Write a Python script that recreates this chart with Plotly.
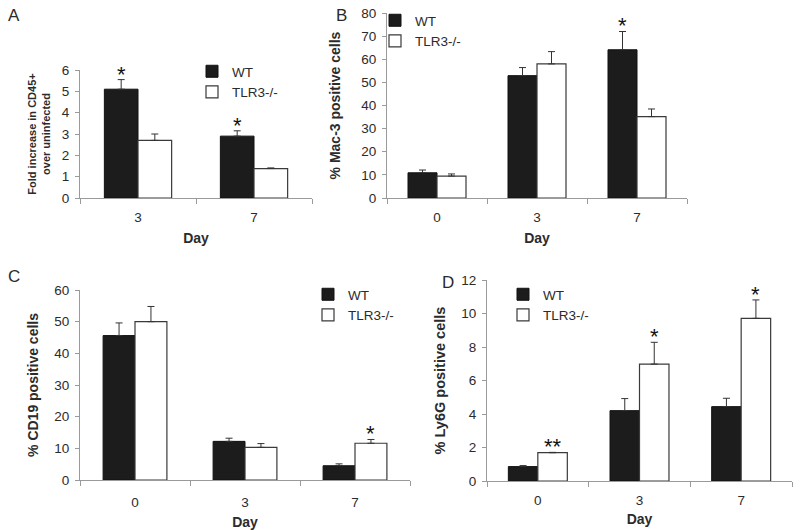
import plotly.graph_objects as go

# ---------------- data ----------------
series_names = ["WT", "TLR3-/-"]

a_days = ["3", "7"]
a_wt = [5.1, 2.9]
a_wt_err = [0.45, 0.25]
a_ko = [2.7, 1.38]
a_ko_err = [0.3, 0.03]

b_days = ["0", "3", "7"]
b_wt = [10.9, 52.9, 64.1]
b_wt_err = [1.2, 3.5, 7.9]
b_ko = [9.5, 58.0, 35.2]
b_ko_err = [0.9, 5.3, 3.3]

c_days = ["0", "3", "7"]
c_wt = [45.6, 12.2, 4.5]
c_wt_err = [4.0, 1.0, 0.6]
c_ko = [50.0, 10.3, 11.6]
c_ko_err = [4.8, 1.2, 1.2]

d_days = ["0", "3", "7"]
d_wt = [0.86, 4.2, 4.44]
d_wt_err = [0.06, 0.72, 0.5]
d_ko = [1.69, 6.98, 9.71]
d_ko_err = [0.02, 1.3, 1.1]

# significance markers: (category index, series index, text)
stars_a = [(0, 0, "*"), (1, 0, "*")]
stars_b = [(2, 0, "*")]
stars_c = [(2, 1, "*")]
stars_d = [(0, 1, "**"), (1, 1, "*"), (2, 1, "*")]

# ---------------- style ----------------
FONT = "Liberation Sans, Arial, sans-serif"
TXT = "#2b2b2b"
AX = "#9a9a9a"
WT_FILL = "#1c1c1c"
KO_FILL = "#ffffff"
BAR_LINE = "#3a3a3a"
W, H = 800, 530

def px_x(p):
    return p / W

def px_y(p):
    return 1 - p / H

panels = [
    dict(key="", days=a_days, wt=a_wt, wte=a_wt_err, ko=a_ko, koe=a_ko_err,
         xd=[80, 312], yd=[198, 70], yr=[0, 6], dt=1,
         ytitle="Fold increase in CD45+<br>over uninfected", tsize=11, tstand=8,
         xstand=8, xls=7, legend="legend", lx=192, ly=56, stars=stars_a,
         label="A", lab=(14, 16)),
    dict(key="2", days=b_days, wt=b_wt, wte=b_wt_err, ko=b_ko, koe=b_ko_err,
         xd=[387, 687], yd=[198, 13], yr=[0, 80], dt=10,
         ytitle="% Mac-3 positive cells", tsize=14, tstand=17,
         xstand=8, xls=7, legend="legend2", lx=375, ly=5, stars=stars_b,
         label="B", lab=(341, 16)),
    dict(key="3", days=c_days, wt=c_wt, wte=c_wt_err, ko=c_ko, koe=c_ko_err,
         xd=[80, 410], yd=[480, 290], yr=[0, 60], dt=10,
         ytitle="% CD19 positive cells", tsize=14, tstand=12,
         xstand=7, xls=10, legend="legend3", lx=308, ly=279, stars=stars_c,
         label="C", lab=(14, 276)),
    dict(key="4", days=d_days, wt=d_wt, wte=d_wt_err, ko=d_ko, koe=d_ko_err,
         xd=[487, 792], yd=[481, 280], yr=[0, 12], dt=2,
         ytitle="% Ly6G positive cells", tsize=14.5, tstand=12,
         xstand=6, xls=7, legend="legend4", lx=503, ly=279, stars=stars_d,
         label="D", lab=(448, 282)),
]

fig = go.Figure()
annotations = []
layout = dict(
    template="none",
    width=W, height=H, margin=dict(l=0, r=0, t=0, b=0, autoexpand=False),
    paper_bgcolor="white", plot_bgcolor="white",
    font=dict(family=FONT, size=13, color=TXT),
    barmode="group", bargap=0.42, bargroupgap=0.0,
    showlegend=True,
)

for i, p in enumerate(panels):
    xa = "x" + p["key"]
    ya = "y" + p["key"]
    fig.add_trace(go.Bar(
        x=p["days"], y=p["wt"], name=series_names[0], xaxis=xa, yaxis=ya,
        marker=dict(color=WT_FILL, line=dict(color="#111111", width=1)),
        error_y=dict(type="data", symmetric=False, array=p["wte"],
                     arrayminus=[0] * len(p["wte"]), color="#333333",
                     thickness=1, width=3.5),
        legend=p["legend"], offsetgroup="wt",
    ))
    fig.add_trace(go.Bar(
        x=p["days"], y=p["ko"], name=series_names[1], xaxis=xa, yaxis=ya,
        marker=dict(color=KO_FILL, line=dict(color=BAR_LINE, width=1.2)),
        error_y=dict(type="data", symmetric=False, array=p["koe"],
                     arrayminus=[0] * len(p["koe"]), color="#333333",
                     thickness=1, width=3.5),
        legend=p["legend"], offsetgroup="ko",
    ))
    xname = "xaxis" + p["key"]
    yname = "yaxis" + p["key"]
    layout[xname] = dict(
        domain=[px_x(p["xd"][0]), px_x(p["xd"][1])], anchor=ya,
        type="category", showline=True, linecolor=AX, linewidth=1,
        ticks="outside", tickson="boundaries", ticklen=5, tickcolor=AX,
        showgrid=False, zeroline=False, automargin=False,
        ticklabelstandoff=p["xls"],
        tickfont=dict(size=13.5, color=TXT),
        title=dict(text="<b>Day</b>", font=dict(size=14, color=TXT),
                   standoff=p["xstand"]),
    )
    layout[yname] = dict(
        domain=[px_y(p["yd"][0]), px_y(p["yd"][1])], anchor=xa,
        range=p["yr"], dtick=p["dt"], showline=True, linecolor=AX, linewidth=1,
        ticks="outside", ticklen=4, tickcolor=AX, showgrid=False, zeroline=False,
        automargin=False, ticklabelstandoff=3,
        tickfont=dict(size=13.5, color=TXT),
        title=dict(text="<b>" + p["ytitle"] + "</b>",
                   font=dict(size=p["tsize"], color=TXT), standoff=p["tstand"]),
    )
    layout[p["legend"]] = dict(
        x=px_x(p["lx"]), y=px_y(p["ly"]), xanchor="left", yanchor="top",
        bgcolor="rgba(0,0,0,0)", font=dict(size=13.5, color=TXT),
        itemwidth=30, tracegroupgap=0,
    )
    # significance stars
    half = (1 - 0.42) / 4
    for (ci, si, txt) in p["stars"]:
        if si == 0:
            top = p["wt"][ci] + p["wte"][ci]
            xc = ci - half
        else:
            top = p["ko"][ci] + p["koe"][ci]
            xc = ci + half
        annotations.append(dict(
            x=xc, y=top, xref=xa, yref=ya, text=txt, showarrow=False,
            yanchor="bottom", yshift=-9, font=dict(size=22, color="#111111"),
        ))
    annotations.append(dict(
        x=px_x(p["lab"][0]), y=px_y(p["lab"][1]), xref="paper", yref="paper",
        text=p["label"], showarrow=False, xanchor="center", yanchor="middle",
        font=dict(size=17, color=TXT),
    ))

layout["annotations"] = annotations
fig.update_layout(**layout)
fig.write_html("out.html", config={"displayModeBar": False},
               post_script="document.body.style.margin='0';")
